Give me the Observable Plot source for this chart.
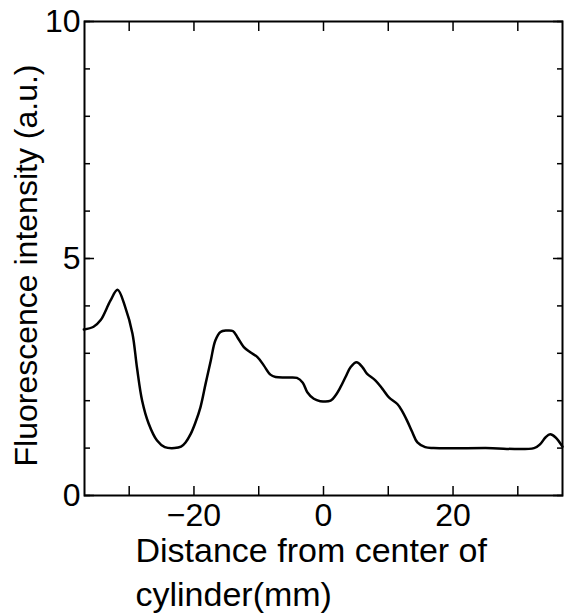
<!DOCTYPE html>
<html><head><meta charset="utf-8">
<script src="https://cdn.jsdelivr.net/npm/d3@7"></script>
<script src="https://cdn.jsdelivr.net/npm/@observablehq/plot@0.6"></script>
<style>html,body{margin:0;padding:0;background:#fff;}</style>
</head><body><div id="chart"></div>
<script>
const distance = [-37, -35.5, -34.4, -32.9, -31.8, -30.6, -29.5, -28.8, -28, -27, -25.7, -24.5, -23, -22, -21.3, -20.5, -19.8, -19, -18.2, -17.4, -16.7, -15.9, -15, -14, -13.3, -12.3, -11.3, -10.2, -9.2, -8.2, -7.4, -5.5, -4.1, -3.2, -2.5, -1.5, -0.5, 1.1, 1.85, 2.6, 3.4, 4.2, 5.1, 6, 6.7, 8, 9.1, 10.1, 11.4, 12.1, 12.9, 13.7, 14.5, 15.7, 17, 25, 32.5, 33.5, 34.3, 35, 35.8, 36.9];
const intensity = [3.5, 3.56, 3.7, 4.11, 4.34, 3.97, 3.42, 2.7, 2.0, 1.52, 1.16, 1.02, 1.0, 1.03, 1.12, 1.3, 1.53, 1.86, 2.36, 2.85, 3.27, 3.45, 3.48, 3.47, 3.34, 3.13, 3.02, 2.92, 2.74, 2.55, 2.5, 2.49, 2.48, 2.38, 2.18, 2.04, 1.99, 2.0, 2.11, 2.28, 2.5, 2.71, 2.81, 2.71, 2.57, 2.43, 2.25, 2.07, 1.93, 1.79, 1.58, 1.34, 1.12, 1.02, 1.0, 1.0, 1.0, 1.09, 1.23, 1.29, 1.23, 1.03];
const xTicks = [-30, -20, -10, 0, 10, 20, 30];
const xTickLabels = [-20, 0, 20];
const yTicks = [0, 1, 2, 3, 4, 5, 6, 7, 8, 9, 10];
const yTickLabels = [0, 5, 10];
const xTitle = "Distance from center of\ncylinder(mm)";
const yTitle = "Fluorescence intensity (a.u.)";

const data = distance.map((d, i) => ({x: d, y: intensity[i]}));
const font = "'Liberation Sans', Arial, Helvetica, sans-serif";
const fmt = d => d < 0 ? "\u2212" + Math.abs(d) : String(d);

const chart = Plot.plot({
  width: 568, height: 614,
  marginTop: 21, marginBottom: 119, marginLeft: 84, marginRight: 6,
  style: {fontFamily: font, background: "#fff", color: "#000", overflow: "visible"},
  x: {domain: [-36.9, 36.9]},
  y: {domain: [0, 10]},
  marks: [
    Plot.axisX({anchor: "bottom", ticks: xTickLabels, tickFormat: fmt, tickSize: 0, tickPadding: 8, fontSize: 32, label: null}),
    Plot.axisX({anchor: "bottom", ticks: xTicks, tickSize: -9, fill: "none", strokeWidth: 1.5, label: null}),
    Plot.axisX({anchor: "top", ticks: xTicks, tickSize: -9, fill: "none", strokeWidth: 1.5, label: null}),
    Plot.axisY({anchor: "left", ticks: yTickLabels, tickSize: 0, tickPadding: 4, fontSize: 32, label: null}),
    Plot.axisY({anchor: "left", ticks: yTicks, tickSize: -6, fill: "none", strokeWidth: 1.5, label: null}),
    Plot.axisY({anchor: "left", ticks: yTickLabels, tickSize: -10, fill: "none", strokeWidth: 1.5, label: null}),
    Plot.axisY({anchor: "right", ticks: yTicks, tickSize: -6, fill: "none", strokeWidth: 1.5, label: null}),
    Plot.axisY({anchor: "right", ticks: yTickLabels, tickSize: -10, fill: "none", strokeWidth: 1.5, label: null}),
    Plot.frame({stroke: "#000", strokeWidth: 2}),
    Plot.line(data, {x: "x", y: "y", curve: "catmull-rom", stroke: "#000", strokeWidth: 2.5}),
    Plot.text([xTitle], {frameAnchor: "bottom-left", text: d => d, textAnchor: "start", lineAnchor: "top", dx: 51, dy: 35, fontSize: 34, lineHeight: 1.29, letterSpacing: "0.7px"}),
    Plot.text([yTitle], {frameAnchor: "left", text: d => d, rotate: -90, textAnchor: "middle", lineAnchor: "top", dx: -70, dy: 7, fontSize: 32, letterSpacing: "0.15px"})
  ]
});
document.getElementById("chart").appendChild(chart);
</script>
</body></html>
